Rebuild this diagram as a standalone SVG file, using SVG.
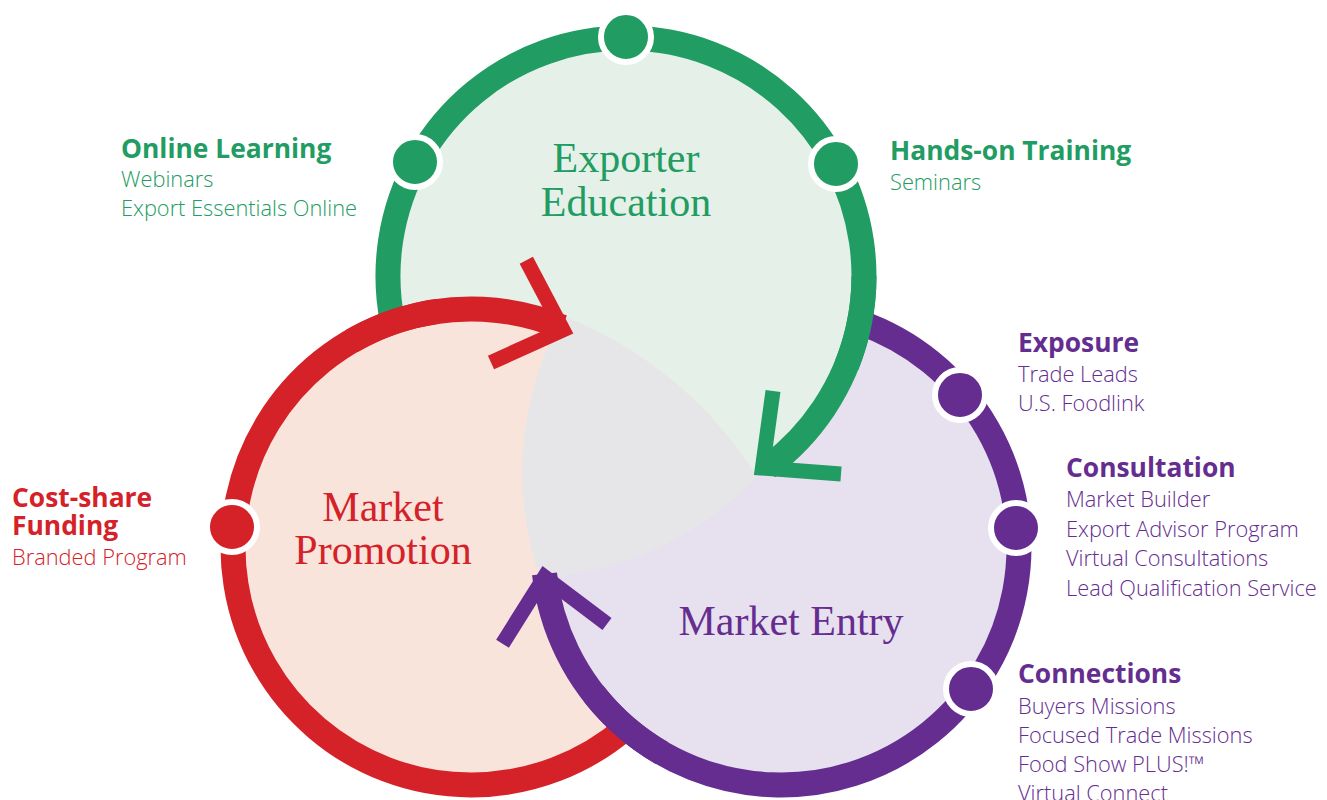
<svg xmlns="http://www.w3.org/2000/svg" width="1327" height="800" viewBox="0 0 1327 800">
<style>
.ring{fill:none;stroke-width:25;stroke-linecap:butt}
.chev{fill:none;stroke-width:15;stroke-linejoin:miter;stroke-miterlimit:10;stroke-linecap:butt}
.g{stroke:#219c62}.r{stroke:#d52128}.p{stroke:#652d90}
.dot{stroke:#ffffff;stroke-width:6}
.h{font-family:"Open Sans","Liberation Sans",sans-serif;font-weight:700;font-size:26.4px}
.b{font-family:"Open Sans","Liberation Sans",sans-serif;font-weight:300;font-size:21.8px}
.t{font-family:"Liberation Serif","DejaVu Serif",serif;font-size:42px;text-anchor:middle}
.fg{fill:#219c62}.fr{fill:#d52128}.fp{fill:#652d90}
</style>
<defs>
<mask id="gMinusR" maskUnits="userSpaceOnUse" x="0" y="0" width="1327" height="800">
<rect x="0" y="0" width="1327" height="800" fill="#000"/>
<circle cx="626" cy="276" r="238" fill="#fff"/>
<circle cx="471" cy="547" r="238" fill="#000"/>
</mask>
</defs>
<rect width="1327" height="800" fill="#ffffff"/>
<g id="fills">
<circle cx="626" cy="276" r="238" fill="#e5f0e8"/>
<circle cx="471" cy="547" r="238" fill="#f9e4dc"/>
<circle cx="781" cy="547" r="238" fill="#e7e0ef"/>
<circle cx="626" cy="276" r="238" fill="#e5f0e8" mask="url(#gMinusR)"/>
<path id="center" d="M563,316 A400,400 0 0 1 757,477 A330,330 0 0 1 540,578 A320,320 0 0 1 563,316 Z" fill="#e6e6e8"/>
</g>
<g id="connectors">
<path class="ring g" d="M392.5,322.2 A238,238 0 1 1 767.6,467.3"/>
<polyline class="chev g" points="773,391 762.4,468.1 841,474"/>
<path class="ring r" d="M625.9,727.7 A238,238 0 1 1 562.1,327.1"/>
<polyline class="chev r" points="526.3,260.3 563,330 491,362.5"/>
<path class="ring p" d="M859.7,322.4 A238,238 0 1 1 544.5,573.9"/>
<polyline class="chev p" points="502.5,643.7 544.5,576.8 607,624"/>
<path class="ring r" d="M352,340.9 A238,238 0 0 1 437.9,311.3"/>
<path class="ring g" d="M864,276 A238,238 0 0 1 846.7,365.2"/>
<path class="ring p" d="M662,753.1 A238,238 0 0 1 593.5,693.5"/>
</g>
<g id="exporter-education">
<text class="t fg" x="626" y="172">Exporter</text>
<text class="t fg" x="626" y="216">Education</text>
<circle class="dot" cx="626" cy="37" r="25" fill="#219c62"/>
</g>
<g id="online-learning">
<circle class="dot" cx="415" cy="162" r="25" fill="#219c62"/>
<text class="h fg" x="121" y="158">Online Learning</text>
<text class="b fg" x="121" y="187">Webinars</text>
<text class="b fg" x="121" y="216">Export Essentials Online</text>
</g>
<g id="hands-on-training">
<circle class="dot" cx="836" cy="164" r="25" fill="#219c62"/>
<text class="h fg" x="890" y="160">Hands-on Training</text>
<text class="b fg" x="890" y="190">Seminars</text>
</g>
<g id="market-promotion">
<text class="t fr" x="383" y="521">Market</text>
<text class="t fr" x="383" y="564">Promotion</text>
</g>
<g id="cost-share-funding">
<circle class="dot" cx="232" cy="527" r="25" fill="#d52128"/>
<text class="h fr" x="12" y="507">Cost-share</text>
<text class="h fr" x="12" y="535">Funding</text>
<text class="b fr" x="12" y="565">Branded Program</text>
</g>
<g id="market-entry">
<text class="t fp" x="791" y="635">Market Entry</text>
</g>
<g id="exposure">
<circle class="dot" cx="960" cy="395" r="25" fill="#652d90"/>
<text class="h fp" x="1018" y="352">Exposure</text>
<text class="b fp" x="1018" y="382">Trade Leads</text>
<text class="b fp" x="1018" y="411">U.S. Foodlink</text>
</g>
<g id="consultation">
<circle class="dot" cx="1016" cy="528" r="25" fill="#652d90"/>
<text class="h fp" x="1066" y="477">Consultation</text>
<text class="b fp" x="1066" y="507">Market Builder</text>
<text class="b fp" x="1066" y="537">Export Advisor Program</text>
<text class="b fp" x="1066" y="566">Virtual Consultations</text>
<text class="b fp" x="1066" y="596">Lead Qualification Service</text>
</g>
<g id="connections">
<circle class="dot" cx="971" cy="689" r="25" fill="#652d90"/>
<text class="h fp" x="1018" y="683">Connections</text>
<text class="b fp" x="1018" y="714">Buyers Missions</text>
<text class="b fp" x="1018" y="743">Focused Trade Missions</text>
<text class="b fp" x="1018" y="772">Food Show PLUS!™</text>
<text class="b fp" x="1018" y="801">Virtual Connect</text>
</g>
</svg>
